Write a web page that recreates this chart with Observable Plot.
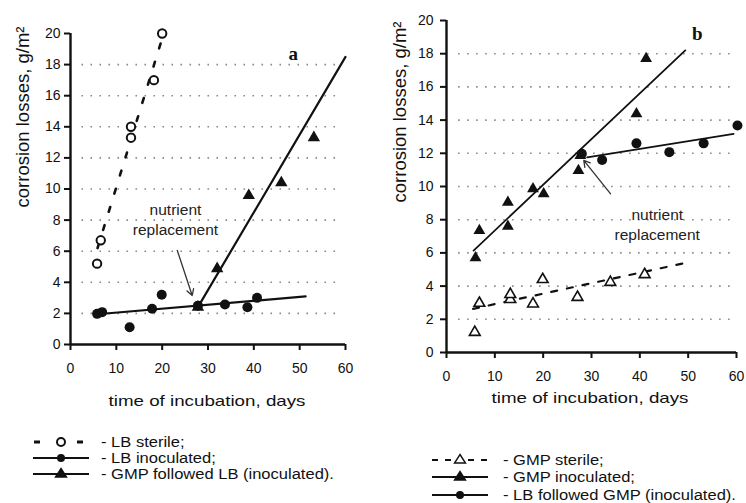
<!DOCTYPE html>
<html><head><meta charset="utf-8">
<script src="https://cdn.jsdelivr.net/npm/d3@7"></script>
<script src="https://cdn.jsdelivr.net/npm/@observablehq/plot@0.6"></script>
<style>
body{margin:0;background:#fff;}
#wrap{position:relative;width:746px;height:503px;overflow:hidden;background:#fff;font-family:Arial,"Liberation Sans",sans-serif;color:#111;}
.ylab{position:absolute;font-size:18.5px;white-space:nowrap;transform:translate(-50%,-50%) rotate(-90deg);line-height:1;}
.xlab{position:absolute;font-size:15px;white-space:nowrap;transform:translate(-50%,-50%) scaleX(1.25);line-height:1;}
.legtxt{position:absolute;font-size:14px;white-space:nowrap;transform:translateY(-50%) scaleX(1.18);transform-origin:left center;line-height:1;}
.sw{position:absolute;}
</style></head><body><div id="wrap"></div>
<script>
// ---------- axis ticks ----------
const xTicks = [0, 10, 20, 30, 40, 50, 60];
const yTicks = [0, 2, 4, 6, 8, 10, 12, 14, 16, 18, 20];
const gridLevels = [2, 4, 6, 8, 10, 12, 14, 16, 18];
const gridSpan = [2.5, 59];

// ---------- panel a ----------
const aSterileDays = [5.8, 6.6, 13.2, 13.2, 18.2, 20.0];
const aSterileLoss = [5.2, 6.7, 13.3, 14.0, 17.0, 20.0];
const aSterileFitDays = [5.9, 19.7];
const aSterileFitLoss = [6.2, 19.4];

const aInocDays = [5.8, 6.9, 12.9, 17.8, 19.9, 27.8, 33.7, 38.6, 40.7];
const aInocLoss = [1.97, 2.08, 1.11, 2.3, 3.2, 2.5, 2.57, 2.4, 3.0];
const aInocFitDays = [5.2, 51.3];
const aInocFitLoss = [1.93, 3.09];

const aGmpDays = [27.8, 32.0, 38.9, 46.0, 53.1];
const aGmpLoss = [2.4, 4.87, 9.58, 10.4, 13.3];
const aGmpFitDays = [27.8, 60];
const aGmpFitLoss = [2.4, 18.5];

const aLetter = {day: 48.6, loss: 18.7, text: "a"};
const aNote = {day: 22.9, loss: 8.1, text: "nutrient\nreplacement"};
const aArrowDays = [23.3, 26.55];
const aArrowLoss = [6.05, 3.15];

// ---------- panel b ----------
const bSterileDays = [5.85, 6.8, 13.2, 13.2, 17.9, 19.9, 27.1, 33.9, 41.0];
const bSterileLoss = [1.22, 2.97, 3.2, 3.5, 2.93, 4.4, 3.33, 4.23, 4.7];
const bSterileFitDays = [5.5, 50.1];
const bSterileFitLoss = [2.63, 5.44];

const bInocDays = [6.0, 6.8, 12.7, 12.7, 17.9, 20.1, 27.3, 27.7, 39.3, 41.3];
const bInocLoss = [5.7, 7.35, 9.05, 7.6, 9.86, 9.56, 10.96, 11.87, 14.38, 17.7];
const bInocFitDays = [5.6, 49.4];
const bInocFitLoss = [6.14, 18.2];

const bLbDays = [28.0, 32.2, 39.3, 46.1, 53.2, 60.2];
const bLbLoss = [11.97, 11.6, 12.6, 12.07, 12.6, 13.67];
const bLbFitDays = [29.1, 59.4];
const bLbFitLoss = [11.76, 13.17];

const bLetter = {day: 51.9, loss: 19.2, text: "b"};
const bNote = {day: 43.6, loss: 7.77, text: "nutrient\nreplacement"};
const bArrowDays = [33.95, 28.4];
const bArrowLoss = [9.56, 11.57];

// ---------- texts ----------
const yTitle = "corrosion losses, g/m\u00B2";
const xTitle = "time of incubation, days";
const legendA = ["- LB sterile;", "- LB inoculated;", "- GMP followed LB (inoculated)."];
const legendB = ["- GMP sterile;", "- GMP inoculated;", "- LB followed GMP (inoculated)."];

const zip = (xs, ys) => xs.map((x, i) => ({day: x, loss: ys[i]}));

function panel(o) {
  return Plot.plot({
    width: o.width, height: o.height,
    marginTop: o.mt, marginBottom: o.mb, marginLeft: o.ml, marginRight: o.mr,
    x: {domain: [0, 60]},
    y: {domain: [0, 20]},
    style: {fontFamily: "Arial, 'Liberation Sans', sans-serif", background: "transparent", color: "#111", overflow: "visible"},
    marks: [
      Plot.ruleY(gridLevels, {x1: gridSpan[0], x2: gridSpan[1], stroke: "#8a8a8a", strokeWidth: 1.6, strokeDasharray: "1.6,7.4"}),
      Plot.axisX({ticks: xTicks, tickSize: 6, tickPadding: 13, label: null, fontSize: 14, strokeWidth: 2, color: "#111"}),
      Plot.axisY({ticks: yTicks, tickSize: 6, tickPadding: o.yPad, label: null, fontSize: 14, strokeWidth: 2, color: "#111"}),
      ...o.marks,
      Plot.ruleX([0], {stroke: "#111", strokeWidth: 2.4}),
      Plot.ruleY([0], {stroke: "#111", strokeWidth: 2.4}),
      Plot.text([o.letter], {x: "day", y: "loss", text: "text", fontFamily: "'Liberation Serif', serif", fontWeight: "bold", fontSize: 19, fill: "#111"}),
      Plot.text([o.note], {x: "day", y: "loss", text: "text", fontSize: 15.5, lineHeight: 1.3, fill: "#222"}),
      Plot.arrow([{x1: o.arrowDays[0], y1: o.arrowLoss[0], x2: o.arrowDays[1], y2: o.arrowLoss[1]}],
        {x1: "x1", y1: "y1", x2: "x2", y2: "y2", stroke: "#333", strokeWidth: 1.3, headLength: 8})
    ]
  });
}

const plotA = panel({
  width: 370, height: 390, mt: 33, mb: 46, ml: 70, mr: 25, yPad: 4,
  letter: aLetter, note: aNote, arrowDays: aArrowDays, arrowLoss: aArrowLoss,
  marks: [
    Plot.line(zip(aSterileFitDays, aSterileFitLoss), {x: "day", y: "loss", stroke: "#111", strokeWidth: 2.6, strokeDasharray: "5,14"}),
    Plot.line(zip(aInocFitDays, aInocFitLoss), {x: "day", y: "loss", stroke: "#111", strokeWidth: 2.2}),
    Plot.line(zip(aGmpFitDays, aGmpFitLoss), {x: "day", y: "loss", stroke: "#111", strokeWidth: 2.2}),
    Plot.dot(zip(aSterileDays, aSterileLoss), {x: "day", y: "loss", r: 4.2, fill: "white", stroke: "#111", strokeWidth: 2}),
    Plot.dot(zip(aInocDays, aInocLoss), {x: "day", y: "loss", r: 5, fill: "#111", stroke: "none"}),
    Plot.dot(zip(aGmpDays, aGmpLoss), {x: "day", y: "loss", r: 4.6, symbol: "triangle", fill: "#111", stroke: "none"})
  ]
});

const plotB = panel({
  width: 371, height: 400, mt: 20, mb: 48, ml: 71, mr: 10, yPad: 7,
  letter: bLetter, note: bNote, arrowDays: bArrowDays, arrowLoss: bArrowLoss,
  marks: [
    Plot.line(zip(bSterileFitDays, bSterileFitLoss), {x: "day", y: "loss", stroke: "#111", strokeWidth: 2.2, strokeDasharray: "6,10"}),
    Plot.line(zip(bInocFitDays, bInocFitLoss), {x: "day", y: "loss", stroke: "#111", strokeWidth: 1.8}),
    Plot.line(zip(bLbFitDays, bLbFitLoss), {x: "day", y: "loss", stroke: "#111", strokeWidth: 1.8}),
    Plot.dot(zip(bSterileDays, bSterileLoss), {x: "day", y: "loss", r: 4, symbol: "triangle", fill: "white", stroke: "#111", strokeWidth: 1.6}),
    Plot.dot(zip(bInocDays, bInocLoss), {x: "day", y: "loss", r: 4.4, symbol: "triangle", fill: "#111", stroke: "none"}),
    Plot.dot(zip(bLbDays, bLbLoss), {x: "day", y: "loss", r: 5, fill: "#111", stroke: "none"})
  ]
});

const wrap = document.getElementById("wrap");
for (const [p, left] of [[plotA, 0], [plotB, 375]]) {
  p.style.position = "absolute";
  p.style.left = left + "px";
  p.style.top = "0px";
  p.style.overflow = "visible";
  wrap.appendChild(p);
}

function addDiv(cls, text, left, top) {
  const d = document.createElement("div");
  d.className = cls; d.textContent = text;
  d.style.left = left + "px"; d.style.top = top + "px";
  wrap.appendChild(d);
}
addDiv("ylab", yTitle, 23, 117);
addDiv("ylab", yTitle, 400, 112);
addDiv("xlab", xTitle, 207, 400);
addDiv("xlab", xTitle, 590, 397);

// legend swatches
function swatch(kind) {
  const line = '<line x1="2" y1="8" x2="58" y2="8" stroke="#111" stroke-width="2.2"/>';
  const dashA = '<line x1="3" y1="8" x2="9" y2="8" stroke="#111" stroke-width="3"/><line x1="46" y1="8" x2="52" y2="8" stroke="#111" stroke-width="3"/>';
  const dashB = '<line x1="2" y1="8" x2="8" y2="8" stroke="#111" stroke-width="2"/><line x1="15" y1="8" x2="21" y2="8" stroke="#111" stroke-width="2"/><line x1="38" y1="8" x2="44" y2="8" stroke="#111" stroke-width="2"/><line x1="51" y1="8" x2="57" y2="8" stroke="#111" stroke-width="2"/>';
  const tri = (fill) => `<path d="M30,2.5 L35.5,11 L24.5,11 Z" fill="${fill}" stroke="#111" stroke-width="1.4"/>`;
  let s = "";
  if (kind === "openCircle") s = dashA + '<circle cx="30" cy="8" r="4" fill="#fff" stroke="#111" stroke-width="2"/>';
  if (kind === "circle") s = line + '<circle cx="30" cy="8" r="4" fill="#111"/>';
  if (kind === "triangle") s = line + tri("#111");
  if (kind === "openTriangle") s = dashB + '<line x1="28" y1="8" x2="33" y2="8" stroke="#111" stroke-width="2"/>' + tri("#fff");
  return `<svg width="60" height="16" viewBox="0 0 60 16">${s}</svg>`;
}
function legendRow(kind, text, swLeft, txtLeft, y) {
  const sw = document.createElement("div");
  sw.className = "sw"; sw.innerHTML = swatch(kind);
  sw.style.left = swLeft + "px"; sw.style.top = (y - 8) + "px";
  wrap.appendChild(sw);
  addDiv("legtxt", text, txtLeft, y);
}
const legAKinds = ["openCircle", "circle", "triangle"];
const legAY = [442, 458, 474];
legendA.forEach((t, i) => legendRow(legAKinds[i], t, 31, 101, legAY[i]));
const legBKinds = ["openTriangle", "triangle", "circle"];
const legBY = [460, 477, 495];
legendB.forEach((t, i) => legendRow(legBKinds[i], t, 430, 503, legBY[i]));
</script></body></html>
